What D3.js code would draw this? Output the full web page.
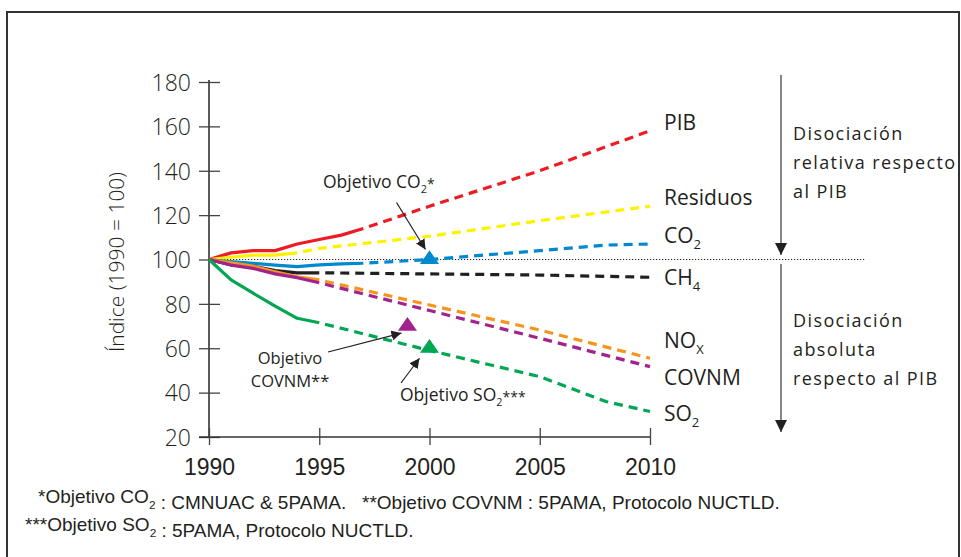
<!DOCTYPE html>
<html><head><meta charset="utf-8">
<script src="https://cdn.jsdelivr.net/npm/d3@7"></script>
<style>
html,body{margin:0;padding:0;background:#fff;}
svg{display:block;}
text{font-family:"Open Sans","Noto Sans",sans-serif;fill:#231f20;}
.narrow{font-family:"Liberation Sans Narrow","Arial Narrow","Liberation Sans",sans-serif;}
</style></head>
<body>
<svg id="c" width="961" height="557"></svg>
<script>
// ---- data ----
const yTicks = [20,40,60,80,100,120,140,160,180];
const xTicks = [1990,1995,2000,2005,2010];

const pibObs  = [[1990,100],[1991,103],[1992,104],[1993,104],[1994,107],[1995,109],[1996,111],[1997,114]];
const pibProj = [[1997,114],[2000,124],[2005,140],[2010,158]];
const resObs  = [[1990,100],[1991,101],[1992,102],[1993,102],[1994,103]];
const resProj = [[1994,103],[1995,105],[2000,110.5],[2005,117.5],[2010,124]];
const co2Obs  = [[1990,100],[1991,99],[1992,98.3],[1993,97.5],[1994,96.8],[1995,97.6],[1996,98],[1997,98.3]];
const co2Proj = [[1997,98.3],[2000,100],[2005,104],[2008,106.5],[2010,107]];
const ch4Obs  = [[1990,100],[1991,97.5],[1992,97],[1993,95],[1994,94],[1995,94]];
const ch4Proj = [[1995,94],[2000,93.5],[2005,93],[2010,92]];
const noxObs  = [[1990,100],[1991,98.5],[1992,97],[1993,94.5],[1994,92.2],[1995,90.8]];
const noxProj = [[1995,90.8],[2000,79.5],[2005,68.2],[2010,55.5]];
const covObs  = [[1990,100],[1991,97.5],[1992,96],[1993,93.5],[1994,91.8],[1995,89.5]];
const covProj = [[1995,89.5],[2000,77],[2005,64.5],[2010,51.7]];
const so2Obs  = [[1990,100],[1991,90.8],[1992,84.8],[1993,79],[1994,73.5],[1995,71.5]];
const so2Proj = [[1995,71.5],[2000,59],[2005,47.2],[2008,36],[2010,31.5]];

const co2Target = [2000,100];
const covTarget = [1999,70];
const so2Target = [2000,60];

const seriesNames = ["PIB","Residuos","CO2","CH4","NOx","COVNM","SO2"];
const seriesColors = ["#ed1c24","#fff200","#0089cf","#231f20","#f7941d","#a3238e","#00a651"];

// ---- chart ----
const svg = d3.select("#c");
const x = d3.scaleLinear().domain([1990,2010]).range([209,650]);
const y = d3.scaleLinear().domain([20,180]).range([437,82]);

// frame
svg.append("rect").attr("x",7).attr("y",12).attr("width",952).attr("height",600)
  .attr("fill","none").attr("stroke","#333").attr("stroke-width",2);

const defs = svg.append("defs");
defs.append("marker").attr("id","ah").attr("viewBox","0 0 10 10").attr("refX",10).attr("refY",5)
  .attr("markerWidth",10).attr("markerHeight",10).attr("markerUnits","userSpaceOnUse").attr("orient","auto")
  .append("path").attr("d","M0,0 L10,5 L0,10 z").attr("fill","#231f20");
defs.append("marker").attr("id","ah2").attr("viewBox","0 0 10 10").attr("refX",10).attr("refY",5)
  .attr("markerWidth",12).attr("markerHeight",12).attr("markerUnits","userSpaceOnUse").attr("orient","auto")
  .append("path").attr("d","M0,0 L10,5 L0,10 z").attr("fill","#231f20");

// axes
const yAxis = svg.append("g").attr("transform","translate(209,0)")
  .call(d3.axisLeft(y).tickValues(yTicks).tickSize(10).tickPadding(8).tickFormat(d3.format("d")));
yAxis.selectAll(".tick line").attr("x2",-10).attr("x1",11);
const xAxis = svg.append("g").attr("transform","translate(0,437)")
  .call(d3.axisBottom(x).tickValues(xTicks).tickSize(8).tickPadding(14).tickFormat(d3.format("d")));
xAxis.selectAll(".tick line").attr("y1",-9).attr("y2",8);
[yAxis,xAxis].forEach(a=>{
  a.select(".domain").attr("stroke","#333").attr("stroke-width",1.6);
  a.selectAll(".tick line").attr("stroke","#444").attr("stroke-width",1.3);
});
yAxis.select(".domain").attr("d","M0,80V437");
xAxis.select(".domain").attr("d","M199,0H650");
yAxis.selectAll(".tick text").attr("font-size",23).attr("fill","#2b2b2b")
  .style("font-family","'Open Sans',sans-serif").style("font-weight",300).attr("dy","0.36em");
xAxis.selectAll(".tick text").attr("class","narrow").attr("font-size",23).attr("fill","#2b2b2b");

// y label
svg.append("text").attr("transform","translate(124,262) rotate(-90)")
  .attr("text-anchor","middle").attr("font-size",21).style("font-weight",300).text("Índice (1990 = 100)");

// reference line 100
svg.append("line").attr("x1",209).attr("x2",865).attr("y1",y(100)).attr("y2",y(100))
  .attr("stroke","#231f20").attr("stroke-width",1).attr("stroke-dasharray","1.2,1.8");

const line = d3.line().x(d=>x(d[0])).y(d=>y(d[1]));
const obs = [pibObs,resObs,co2Obs,ch4Obs,noxObs,covObs,so2Obs];
const proj = [pibProj,resProj,co2Proj,ch4Proj,noxProj,covProj,so2Proj];
proj.forEach((p,i)=>{
  svg.append("path").attr("d",line(p)).attr("fill","none").attr("stroke",seriesColors[i])
    .attr("stroke-width",3.2).attr("stroke-dasharray","9,6").attr("stroke-dashoffset",-6);
});
obs.forEach((p,i)=>{
  svg.append("path").attr("d",line(p)).attr("fill","none").attr("stroke",seriesColors[i])
    .attr("stroke-width",3.2).attr("stroke-linejoin","round");
});

// targets
const tri = d3.symbol().type(d3.symbolTriangle).size(135);
[[co2Target,seriesColors[2]],[covTarget,seriesColors[5]],[so2Target,seriesColors[6]]].forEach(([t,c])=>{
  svg.append("path").attr("d",tri()).attr("transform",`translate(${x(t[0])},${y(t[1])}) scale(1.08,0.9)`).attr("fill",c);
});

// target annotations
function arrow(x1,y1,x2,y2){
  svg.append("line").attr("x1",x1).attr("y1",y1).attr("x2",x2).attr("y2",y2)
    .attr("stroke","#231f20").attr("stroke-width",1.2).attr("marker-end","url(#ah)");
}
function sub(t,parts,size){
  parts.forEach(p=>{
    if(p.s){ t.append("tspan").attr("font-size",size*0.62).attr("dy",size*0.3).text(p.s);
             t.append("tspan").attr("dy",-size*0.3).text(""); }
    else if(p.sup){ t.append("tspan").attr("font-size",size*0.8).attr("dy",-size*0.25).text(p.sup);
             t.append("tspan").attr("dy",size*0.25).text(""); }
    else t.append("tspan").text(p.t);
  });
  return t;
}
sub(svg.append("text").attr("x",323).attr("y",188).attr("font-size",17.5),[{t:"Objetivo CO"},{s:"2"},{sup:"*"}],17.5);
arrow(x(co2Target[0])-33,y(co2Target[1])-57,x(co2Target[0])-4,y(co2Target[1])-10);
svg.append("text").attr("x",290).attr("y",364).attr("font-size",16.5).attr("text-anchor","middle").text("Objetivo");
svg.append("text").attr("x",290).attr("y",387).attr("font-size",16.5).attr("text-anchor","middle").text("COVNM**");
arrow(328,352,x(covTarget[0])-6,y(covTarget[1])+7);
sub(svg.append("text").attr("x",400).attr("y",401).attr("font-size",17.5),[{t:"Objetivo SO"},{s:"2"},{sup:"***"}],17.5);
arrow(401,383,x(so2Target[0])-10,y(so2Target[1])+10);

// series labels
const labelY = [130,205,243,285,348,385,421];
const labelParts = [[{t:"PIB"}],[{t:"Residuos"}],[{t:"CO"},{s:"2"}],[{t:"CH"},{s:"4"}],[{t:"NO"},{s:"X"}],[{t:"COVNM"}],[{t:"SO"},{s:"2"}]];
labelParts.forEach((p,i)=>{
  sub(svg.append("text").attr("x",664).attr("y",labelY[i]).attr("font-size",21),p,21);
});

// dissociation arrows
svg.append("line").attr("x1",781).attr("x2",781).attr("y1",75).attr("y2",255)
  .attr("stroke","#444").attr("stroke-width",1.3).attr("marker-end","url(#ah2)");
svg.append("line").attr("x1",781).attr("x2",781).attr("y1",264).attr("y2",432)
  .attr("stroke","#444").attr("stroke-width",1.3).attr("marker-end","url(#ah2)");
const dis1 = ["Disociación","relativa respecto","al PIB"];
const dis2 = ["Disociación","absoluta","respecto al PIB"];
dis1.forEach((s,i)=>svg.append("text").attr("x",793).attr("y",140+i*29).attr("font-size",18)
  .attr("letter-spacing",1.4).text(s));
dis2.forEach((s,i)=>svg.append("text").attr("x",793).attr("y",327+i*29).attr("font-size",18)
  .attr("letter-spacing",1.4).text(s));

// footnotes
const f1 = svg.append("text").attr("class","narrow").attr("x",38).attr("y",503).attr("font-size",19);
sub(f1,[{t:"*Objetivo CO"},{s:"2"},{t:" : CMNUAC & 5PAMA.   **Objetivo COVNM : 5PAMA, Protocolo NUCTLD."}],19);
const f2 = svg.append("text").attr("class","narrow").attr("x",25).attr("y",531).attr("font-size",19);
sub(f2,[{t:"***Objetivo SO"},{s:"2"},{t:" : 5PAMA, Protocolo NUCTLD."}],19);
svg.selectAll("text.narrow").style("white-space","pre").attr("xml:space","preserve");
</script>
</body></html>
